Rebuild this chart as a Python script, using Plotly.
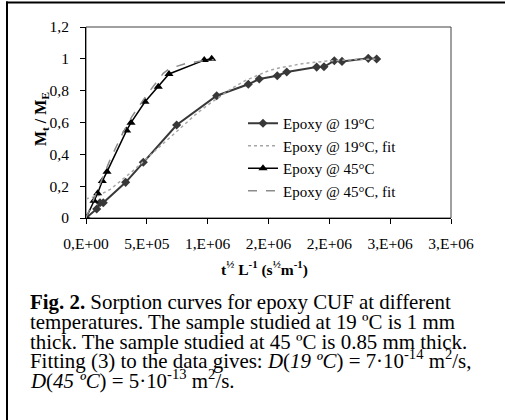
import plotly.graph_objects as go

# ---- data ----
x19 = [0, 88e3, 115e3, 142e3, 326e3, 471e3, 745e3, 1074e3, 1334e3, 1424e3,
       1572e3, 1650e3, 1896e3, 1956e3, 2041e3, 2104e3, 2320e3, 2389e3]
y19 = [0, 0.057, 0.096, 0.096, 0.224, 0.35, 0.584, 0.768, 0.840, 0.873,
       0.894, 0.917, 0.948, 0.950, 0.988, 0.984, 1.003, 0.999]

x19fit = [0, 100e3, 200e3, 300e3, 400e3, 500e3, 600e3, 700e3, 800e3, 900e3,
          1000e3, 1100e3, 1200e3, 1300e3, 1400e3, 1500e3, 1600e3, 1700e3,
          1800e3, 1900e3, 2000e3, 2200e3, 2400e3]
y19fit = [0.12, 0.14, 0.18, 0.24, 0.305, 0.375, 0.445, 0.515, 0.585, 0.65,
          0.71, 0.765, 0.815, 0.86, 0.895, 0.925, 0.945, 0.96,
          0.972, 0.98, 0.987, 0.995, 0.999]

x45 = [0, 66e3, 96e3, 134e3, 173e3, 334e3, 370e3, 485e3, 594e3, 682e3, 972e3, 1033e3]
y45 = [0, 0.109, 0.155, 0.232, 0.291, 0.55, 0.599, 0.73, 0.825, 0.905, 0.992, 1.0]

x45fit = [0, 100e3, 200e3, 300e3, 376e3, 499e3, 635e3, 690e3, 828e3, 962e3, 1050e3]
y45fit = [0, 0.19, 0.37, 0.53, 0.636, 0.773, 0.909, 0.94, 0.972, 0.988, 0.995]

xtickvals = [0, 5e5, 1e6, 1.5e6, 2e6, 2.5e6, 3e6]
xticktext = ["0,E+00", "5,E+05", "1,E+06", "2,E+06", "2,E+06", "3,E+06", "3,E+06"]
ytickvals = [0, 0.2, 0.4, 0.6, 0.8, 1.0, 1.2]
yticktext = ["0", "0,2", "0,4", "0,6", "0,8", "1", "1,2"]

names = ["Epoxy @ 19°C", "Epoxy @ 19°C, fit", "Epoxy @ 45°C", "Epoxy @ 45°C, fit"]

caption_lines = [
    "<b>Fig. 2.</b> Sorption curves for epoxy CUF at different",
    "temperatures. The sample studied at 19 ºC is 1 mm",
    "thick. The sample studied at 45 ºC is 0.85 mm thick.",
    "Fitting (3) to the data gives: <i>D</i>(<i>19 ºC</i>) = 7·10<sup>-14</sup> m<sup>2</sup>/s,",
    "<i>D</i>(<i>45 ºC</i>) = 5·10<sup>-13</sup> m<sup>2</sup>/s.",
]

# ---- layout geometry (pixels) ----
W, H = 505, 420
L, R, T, B = 86, 451, 27, 218
pw, ph = R - L, B - T

def px(xp):
    return (xp - L) / pw

def py(yp):
    return (B - yp) / ph

FONT = "Liberation Serif"

fig = go.Figure()
fig.add_trace(go.Scatter(x=x19, y=y19, name=names[0], mode="lines+markers",
                         line=dict(color="#383838", width=2),
                         marker=dict(symbol="diamond", size=7, color="#383838")))
fig.add_trace(go.Scatter(x=x19fit, y=y19fit, name=names[1], mode="lines",
                         line=dict(color="#a6a6a6", width=1.5, dash="dot")))
fig.add_trace(go.Scatter(x=x45, y=y45, name=names[2], mode="lines+markers",
                         line=dict(color="#000000", width=1.5),
                         marker=dict(symbol="triangle-up", size=8, color="#000000")))
fig.add_trace(go.Scatter(x=x45fit, y=y45fit, name=names[3], mode="lines",
                         line=dict(color="#8c8c8c", width=1.5, dash="dash")))

annotations = []
annotations.append(dict(x=px(42), y=py(119), xref="paper", yref="paper",
                        text="<b>M<sub>t</sub> / M<sub>E</sub></b>", textangle=-90,
                        showarrow=False, font=dict(family=FONT, size=16, color="black"),
                        xanchor="center", yanchor="middle"))
annotations.append(dict(x=px(264), y=py(268), xref="paper", yref="paper",
                        text="<b>t<sup>½</sup> L<sup>-1</sup> (s<sup>½</sup>m<sup>-1</sup>)</b>",
                        showarrow=False, font=dict(family=FONT, size=15.5, color="black"),
                        xanchor="center", yanchor="middle"))
baselines = [307.3, 327, 346.5, 366, 385.5]
for txt, bl in zip(caption_lines, baselines):
    annotations.append(dict(x=px(28), y=py(bl + 9), xref="paper", yref="paper",
                            text=txt, showarrow=False, align="left",
                            font=dict(family=FONT, size=20.9, color="black"),
                            xanchor="left", yanchor="bottom"))

shapes = [
    dict(type="rect", xref="paper", yref="paper", x0=0, x1=1, y0=0, y1=1,
         line=dict(color="#404040", width=1), layer="below"),
    dict(type="line", xref="paper", yref="paper", x0=px(7), x1=px(7), y0=py(1.5), y1=py(421),
         line=dict(color="black", width=2)),
    dict(type="line", xref="paper", yref="paper", x0=px(6), x1=px(506), y0=py(2.5), y1=py(2.5),
         line=dict(color="black", width=2)),
]

fig.update_layout(
    width=W, height=H,
    margin=dict(l=L, r=W - R, t=T, b=H - B),
    paper_bgcolor="white", plot_bgcolor="white",
    font=dict(family=FONT, size=15, color="black"),
    showlegend=True,
    legend=dict(x=px(243), y=py(107), xanchor="left", yanchor="top",
                bgcolor="rgba(0,0,0,0)", borderwidth=0,
                font=dict(family=FONT, size=15, color="black"),
                itemwidth=30, tracegroupgap=0),
    annotations=annotations,
    shapes=shapes,
)
fig.update_xaxes(range=[0, 3e6], tickmode="array", tickvals=xtickvals, ticktext=xticktext,
                 showgrid=False, zeroline=False, showline=True, linecolor="black", linewidth=1,
                 ticks="outside", ticklen=5, tickcolor="black", ticklabelstandoff=6,
                 tickfont=dict(family=FONT, size=15.5, color="black"))
fig.update_yaxes(range=[0, 1.2], tickmode="array", tickvals=ytickvals, ticktext=yticktext,
                 showgrid=False, zeroline=False, showline=True, linecolor="black", linewidth=1,
                 ticks="outside", ticklen=5, tickcolor="black", ticklabelstandoff=8,
                 tickfont=dict(family=FONT, size=15.5, color="black"))

fig.write_html("out.html", config={"displayModeBar": False},
               post_script="document.body.style.margin='0';document.body.style.overflow='hidden';")
